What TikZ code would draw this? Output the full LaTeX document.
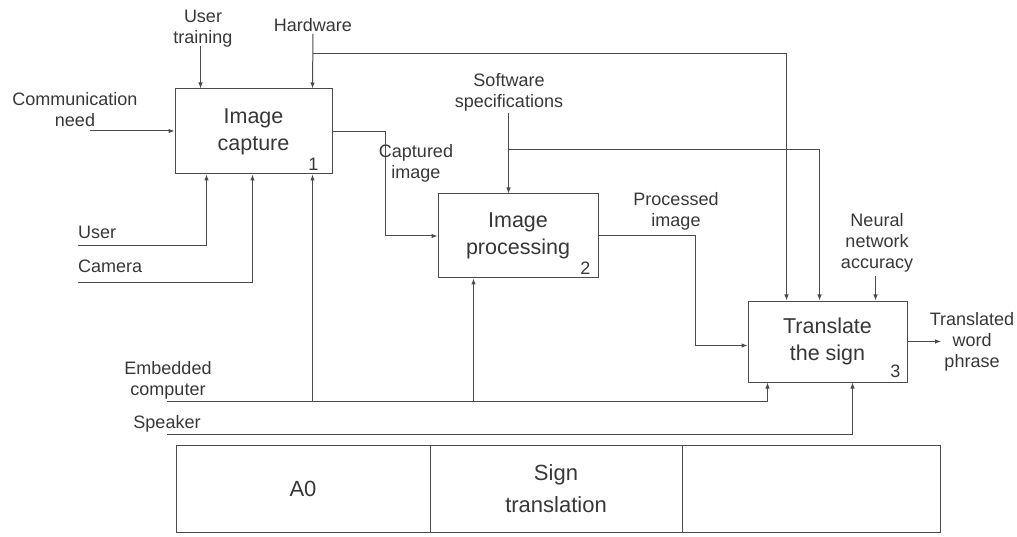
\documentclass[tikz,border=0pt]{standalone}
\usepackage{fontspec}
\setmainfont{Liberation Sans}
\usetikzlibrary{positioning, arrows.meta}
\definecolor{linegray}{RGB}{75,75,75}
\definecolor{textgray}{RGB}{55,55,55}

\begin{document}
\begin{tikzpicture}[x=1pt, y=-1pt,
  func/.style={draw=linegray, line width=1pt, inner sep=0pt, align=center,
    font=\fontsize{21.5}{27}\selectfont, text=textgray},
  fnum/.style={anchor=south east, inner sep=0pt,
    font=\fontsize{18}{21}\selectfont, text=textgray},
  lbl/.style={inner sep=0pt, align=center,
    font=\fontsize{18}{21}\selectfont, text=textgray},
  flow/.style={draw=linegray, line width=1pt, -{Latex[length=6pt,width=4.5pt]}},
  cell/.style={draw=linegray, line width=1pt, minimum height=87pt, inner sep=0pt,
    align=center, font=\fontsize{22}{32}\selectfont, text=textgray},
]
\useasboundingbox (0,0) rectangle (1017,537);

% Function boxes
\node[func, minimum width=157pt, minimum height=85pt] (cap) at (253.5,131.5) {Image\\capture};
\node[fnum] at ([xshift=-14pt, yshift=4pt]cap.south east) {1};
\node[func, minimum width=160pt, minimum height=84pt] (pr) at (518,236) {Image\\processing};
\node[fnum] at ([xshift=-8pt, yshift=4pt]pr.south east) {2};
\node[func, minimum width=159pt, minimum height=81pt] (tr) at (827.5,341.5) {Translate\\the sign};
\node[fnum] at ([xshift=-7pt, yshift=5pt]tr.south east) {3};

% Arrow ends on the boxes
\coordinate (cap-t1) at ([xshift=26pt]cap.north west);
\coordinate (cap-t2) at ([xshift=138pt]cap.north west);
\coordinate (cap-b1) at ([xshift=32pt]cap.south west);
\coordinate (cap-b2) at ([xshift=78pt]cap.south west);
\coordinate (cap-b3) at ([xshift=138pt]cap.south west);
\coordinate (pr-t1) at ([xshift=71pt]pr.north west);
\coordinate (pr-b1) at ([xshift=36pt]pr.south west);
\coordinate (tr-t1) at ([xshift=39pt]tr.north west);
\coordinate (tr-t2) at ([xshift=72pt]tr.north west);
\coordinate (tr-t3) at ([xshift=128pt]tr.north west);
\coordinate (tr-b1) at ([xshift=20pt]tr.south west);
\coordinate (tr-b2) at ([xshift=105pt]tr.south west);

% Controls
\node[lbl] (ut) at (203,29) {User\\training};
\draw[flow] (cap-t1 |- ut.south) ++(0,-2) -- (cap-t1);
\node[lbl] (hw) at (313,25) {Hardware};
\draw[flow] ([yshift=-2pt]hw.south) -- (cap-t2);
\coordinate (hw-j) at (313,54);
\draw[flow] (hw-j) -| (tr-t1);
\node[lbl] (sw) at (509,92) {Software\\specifications};
\draw[flow] ([yshift=-2pt]sw.south -| pr-t1) -- (pr-t1);
\coordinate (sw-j) at (509,150);
\draw[flow] (sw-j) -| (tr-t2);
\node[lbl] (nn) at (877,243) {Neural\\network\\accuracy};
\draw[flow] ([yshift=-3pt]nn.south -| tr-t3) -- (tr-t3);

% Inputs
\node[lbl] (cn) at (75,110) {Communication\\need};
\coordinate (cn-in) at (90,131);
\draw[flow] (cn-in) -- (cn-in -| cap.west);

% Mechanisms
\node[lbl, anchor=west] (usr) at (78,232) {User};
\coordinate (usr-in) at (78,246);
\draw[flow] (usr-in) -| (cap-b1);
\node[lbl, anchor=west] (cam) at (78,266) {Camera};
\coordinate (cam-in) at (78,283);
\draw[flow] (cam-in) -| (cap-b2);
\node[lbl] (emb) at (168,380) {Embedded\\computer};
\coordinate (emb-in) at (167,401);
\draw[flow] (emb-in) -| (tr-b1);
\draw[flow] (cap-b3 |- emb-in) -- (cap-b3);
\draw[flow] (pr-b1 |- emb-in) -- (pr-b1);
\node[lbl] (spk) at (167,424) {Speaker};
\coordinate (spk-in) at (167,434);
\draw[flow] (spk-in) -| (tr-b2);

% Flows between boxes
\draw[flow] (cap.east) -- ++(53,0) |- (pr.west);
\node[lbl] (ci) at (416,163) {Captured\\image};
\draw[flow] (pr.east) -- ++(97,0) |- ([yshift=-4pt]tr.west);
\node[lbl] (pi) at (676,211) {Processed\\image};

% Output
\node[lbl] (tw) at (972,342) {Translated\\word\\phrase};
\coordinate (tw-in) at (941,341.5);
\draw[flow] (tr.east) -- (tw-in);

% Title block
\node[cell, minimum width=254pt] (a0) at (303,488.5) {A0};
\node[cell, minimum width=252pt] (title) at (556,488.5) {Sign\\translation};
\node[cell, minimum width=258pt] (blank) at (811,488.5) {};
\end{tikzpicture}
\end{document}
